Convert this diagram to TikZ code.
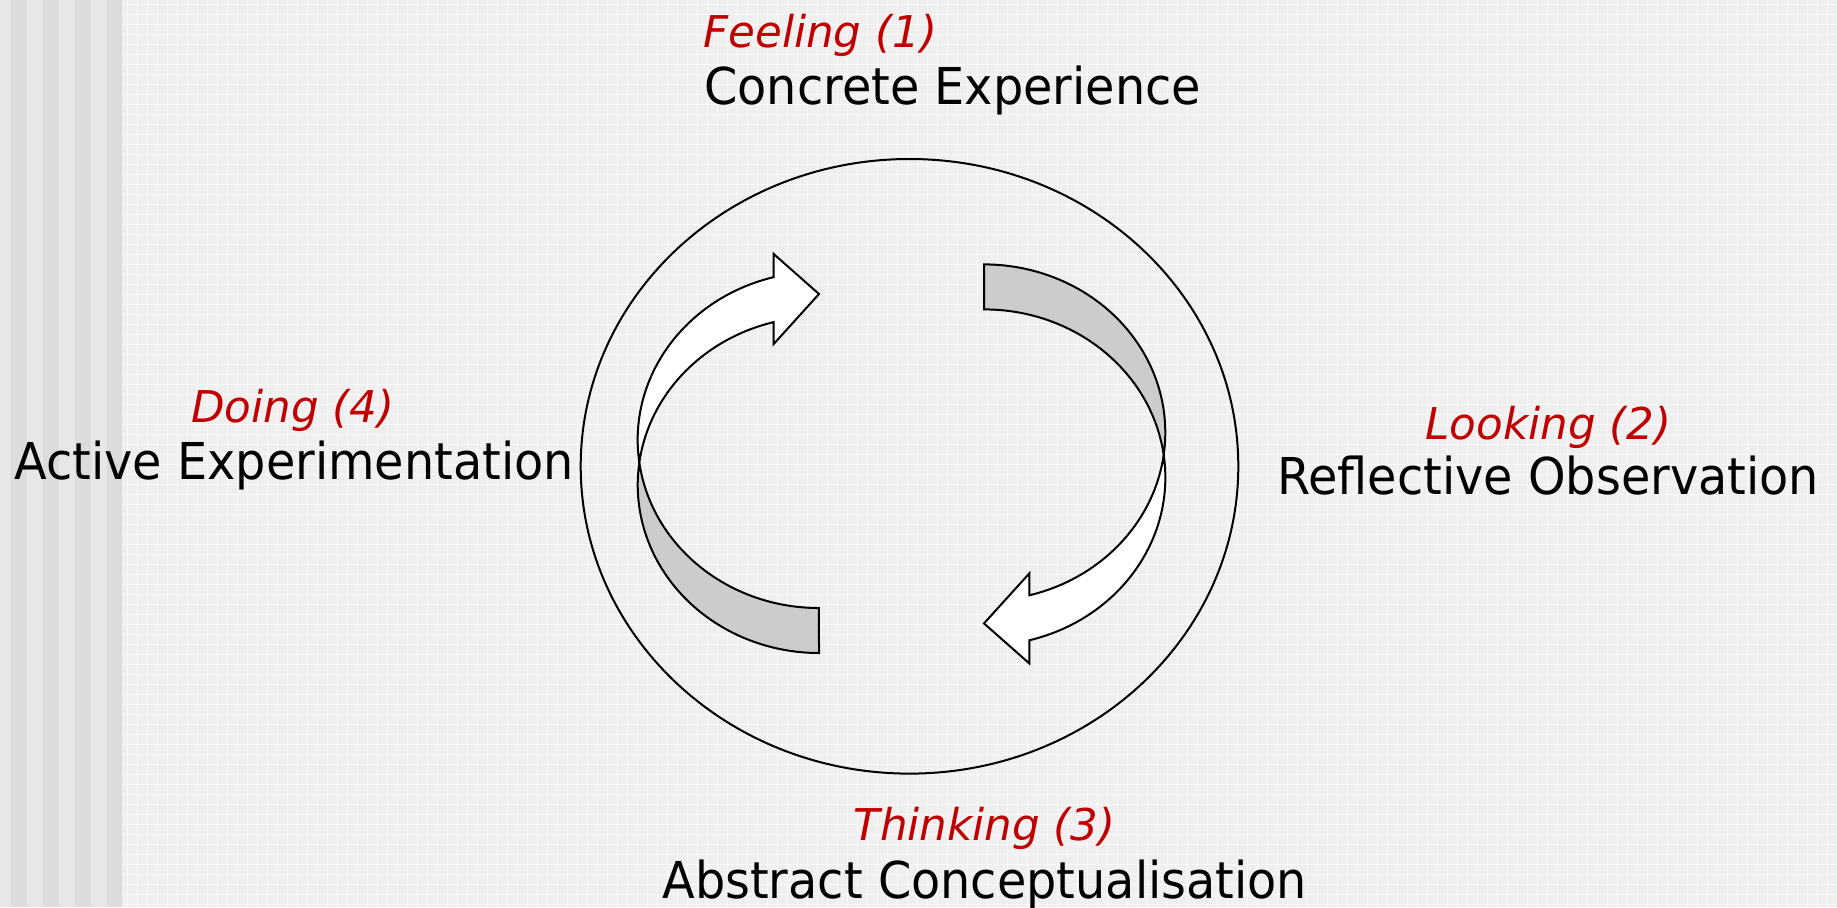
\documentclass[tikz,border=0pt]{standalone}
\usepackage{fontspec}
\newfontfamily\blackfont[FakeStretch=0.94]{DejaVu Sans}
\newfontfamily\redfont[FakeStretch=0.995]{DejaVu Sans}
\definecolor{kred}{RGB}{192,0,0}
\definecolor{bgbase}{RGB}{239,239,239}
\definecolor{stripelight}{RGB}{231,231,231}
\definecolor{stripedark}{RGB}{220,220,220}
\definecolor{backgray}{RGB}{204,204,204}
\tikzset{
  mainlabel/.style={anchor=base west, inner sep=0pt, text=black,
    font=\blackfont\fontsize{25.4}{30}\selectfont},
  redlabel/.style={anchor=base west, inner sep=0pt, text=kred,
    font=\redfont\itshape\fontsize{21.9}{26}\selectfont},
  gridline/.style={white, line width=0.5pt, opacity=0.6},
  arrowline/.style={draw=black, line width=1pt, line join=miter},
  cyclearrow/.pic={
    % back (shaded) part
    \path[arrowline, fill=backgray] (-179.7,0)
      arc[start angle=172.31, end angle=90, x radius=181.3, y radius=168.1]
      -- (0,190.6)
      arc[start angle=90, end angle=187.69, x radius=181.3, y radius=168.1]
      -- cycle;
    % front (white) part with head
    \path[arrowline, fill=white] (-179.7,0)
      arc[start angle=172.31, end angle=255.53, x radius=181.3, y radius=168.1]
      -- (-45.3,-208.4) -- (0,-168.4) -- (-45.3,-118.4) -- (-45.3,-140.3)
      arc[start angle=255.53, end angle=187.69, x radius=181.3, y radius=168.1]
      -- cycle;
  }
}
\begin{document}
\begin{tikzpicture}[x=0.5pt, y=-0.5pt]
\useasboundingbox (0,0) rectangle (1837,907);
% background
\fill[bgbase] (0,0) rectangle (1837,907);
\foreach \x in {127,137,...,1837} \draw[gridline] (\x,0) -- (\x,907);
\foreach \y in {4,14,...,904} \draw[gridline] (122,\y) -- (1837,\y);
\fill[stripelight] (0,0) rectangle (122,907);
\foreach \a in {11,43,75,107} \fill[stripedark] (\a,0) rectangle ({min(\a+16,122)},907);
% outer ellipse
\draw[line width=1pt] (909.5,466.3) ellipse [x radius=328.8, y radius=307.3];
% arrows
\pic at (819,462.4) {cyclearrow};
\pic[rotate=180] at (984,455) {cyclearrow};
% labels
\node[redlabel]  (feel)  at (703,47)  {Feeling (1)};
\node[mainlabel] (ce)    at (704,104) {Concrete Experience};
\node[redlabel]  (look)  at (1425,439) {Looking (2)};
\node[mainlabel] (ro)    at (1277,494) {Reflective Observation};
\node[redlabel]  (think) at (853,840) {Thinking (3)};
\node[mainlabel] (ac)    at (662,898) {Abstract Conceptualisation};
\node[redlabel]  (doing) at (191,422) {Doing (4)};
\node[mainlabel] (ae)    at (14,479)  {Active Experimentation};
\end{tikzpicture}
\end{document}
